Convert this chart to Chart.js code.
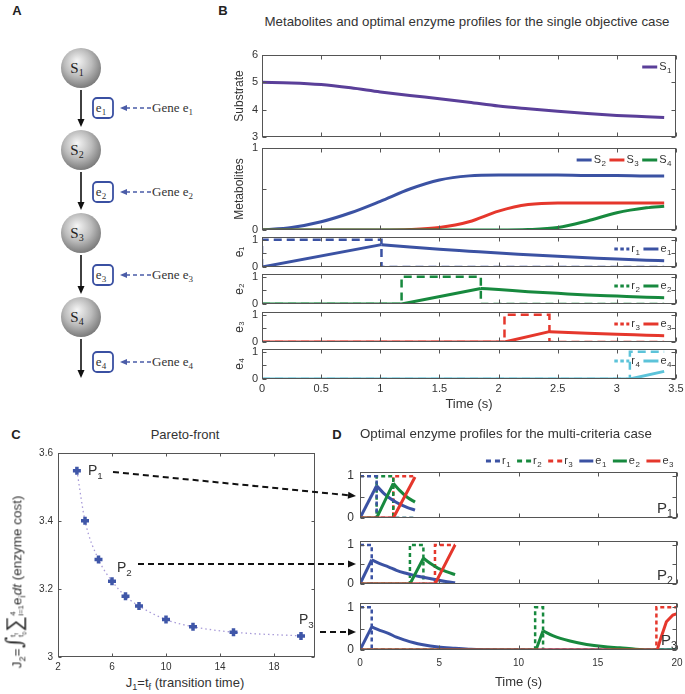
<!DOCTYPE html>
<html>
<head>
<meta charset="utf-8">
<script src="https://cdn.jsdelivr.net/npm/chart.js@4.4.1/dist/chart.umd.min.js"></script>
<style>
  body { margin: 0; background: #fff; }
  #fig { position: relative; width: 685px; height: 694px; overflow: hidden;
         font-family: 'Liberation Sans', Arial, sans-serif; color: #333; }
  canvas.p { position: absolute; }
  .t { position: absolute; white-space: nowrap; line-height: 1; }
  .t sub, .t sup { font-size: 70%; line-height: 0; }
</style>
</head>
<body>
<div id="fig">
  <svg id="diag" width="215" height="400" style="position:absolute;left:0;top:0"
       font-family="'Liberation Serif','DejaVu Serif',serif">
    <defs>
      <radialGradient id="ball" cx="0.45" cy="0.4" r="0.62" fx="0.4" fy="0.32">
        <stop offset="0" stop-color="#f6f6f6"/>
        <stop offset="0.55" stop-color="#bcbcbc"/>
        <stop offset="1" stop-color="#777"/>
      </radialGradient>
    </defs>
  </svg>
</div>
<script>
// ---------- panel B: single objective, time in s ----------
const tB = [0, 0.25, 0.5, 0.75, 1, 1.25, 1.5, 1.75, 2, 2.25, 2.5, 2.75, 3, 3.25, 3.4];
const S1 = [5.0, 4.98, 4.92, 4.80, 4.65, 4.52, 4.40, 4.27, 4.13, 4.03, 3.94, 3.86, 3.79, 3.74, 3.71];
const S2 = [0, 0.03, 0.10, 0.21, 0.35, 0.50, 0.61, 0.66, 0.67, 0.67, 0.67, 0.665, 0.665, 0.66, 0.66];
const S3 = [0, 0, 0, 0, 0, 0.005, 0.03, 0.10, 0.23, 0.31, 0.33, 0.33, 0.33, 0.33, 0.33];
const S4 = [0, 0, 0, 0, 0, 0, 0, 0, 0, 0.005, 0.03, 0.11, 0.21, 0.27, 0.29];

const r1t = [0, 0, 1.01, 1.01, 3.4],          r1 = [0, 1, 1, 0, 0];
const r2t = [0, 1.18, 1.18, 1.85, 1.85, 3.4], r2 = [0, 0, 1, 1, 0, 0];
const r3t = [0, 2.05, 2.05, 2.43, 2.43, 3.4], r3 = [0, 0, 1, 1, 0, 0];
const r4t = [0, 3.11, 3.11, 3.4],             r4 = [0, 0, 1, 1];
const e1t = [0, 1.01, 1.25, 1.5, 1.75, 2, 2.25, 2.5, 2.75, 3, 3.25, 3.4];
const e1  = [0, 0.82, 0.73, 0.65, 0.58, 0.51, 0.45, 0.39, 0.34, 0.29, 0.25, 0.23];
const e2t = [0, 1.18, 1.85, 2, 2.25, 2.5, 2.75, 3, 3.25, 3.4];
const e2  = [0, 0, 0.57, 0.53, 0.45, 0.39, 0.33, 0.29, 0.25, 0.23];
const e3t = [0, 2.05, 2.43, 2.75, 3, 3.25, 3.4];
const e3  = [0, 0, 0.38, 0.32, 0.28, 0.25, 0.23];
const e4t = [0, 3.11, 3.4];
const e4  = [0, 0, 0.28];

// ---------- panel C: pareto front ----------
const J1 = [3.4, 4, 5, 6, 7, 8, 10, 12, 15, 20];
const J2 = [3.548, 3.401, 3.287, 3.223, 3.179, 3.150, 3.110, 3.089, 3.073, 3.062];

// ---------- panel D: multi-criteria profiles ----------
// P1 (t_f = 3.47 s)
const p1r1t = [0, 1.05, 1.05, 3.47],           p1r1 = [1, 1, 0, 0];
const p1r2t = [0, 1.05, 1.05, 2.1, 2.1, 3.47], p1r2 = [0, 0, 1, 1, 0, 0];
const p1r3t = [0, 2.1, 2.1, 3.47],             p1r3 = [0, 0, 1, 1];
const p1e1t = [0, 1.05, 1.5, 2, 2.5, 3, 3.47], p1e1 = [0, 0.77, 0.59, 0.44, 0.33, 0.25, 0.19];
const p1e2t = [0, 1.05, 2.1, 2.5, 3, 3.47],    p1e2 = [0, 0, 0.83, 0.66, 0.49, 0.38];
const p1e3t = [0, 2.1, 3.47],                  p1e3 = [0, 0, 0.98];
// P2 (t_f = 6 s)
const p2r1t = [0, 0.74, 0.74, 6],              p2r1 = [1, 1, 0, 0];
const p2r2t = [0, 3.15, 3.15, 4, 4, 6],        p2r2 = [0, 0, 1, 1, 0, 0];
const p2r3t = [0, 4.73, 4.73, 6],              p2r3 = [0, 0, 1, 1];
const p2e1t = [0, 0.74, 1.25, 1.79, 2.3, 2.84, 3.4, 3.9, 4.4, 4.94, 5.5, 6];
const p2e1  = [0, 0.62, 0.52, 0.44, 0.35, 0.28, 0.22, 0.18, 0.14, 0.10, 0.06, 0.03];
const p2e2t = [0, 3.15, 4, 4.5, 4.94, 5.5, 6], p2e2 = [0, 0, 0.66, 0.51, 0.40, 0.31, 0.24];
const p2e3t = [0, 4.73, 6],                    p2e3 = [0, 0, 1.0];
// P3 (t_f = 20 s)
const p3r1t = [0, 0.74, 0.74, 20],             p3r1 = [1, 1, 0, 0];
const p3r2t = [0, 11.05, 11.05, 11.55, 11.55, 20], p3r2 = [0, 0, 1, 1, 0, 0];
const p3r3t = [0, 18.7, 18.7, 20],             p3r3 = [0, 0, 1, 1];
const p3e1t = [0, 0.74, 1.25, 1.79, 2.3, 2.84, 3.4, 3.89, 4.94, 6, 7, 8, 9, 20];
const p3e1  = [0, 0.54, 0.46, 0.39, 0.30, 0.23, 0.17, 0.13, 0.07, 0.04, 0.015, 0.005, 0, 0];
const p3e2t = [0, 11.1, 11.55, 12.2, 13.25, 14.3, 15.35, 16.4, 17.4, 18.3, 20];
const p3e2  = [0, 0, 0.45, 0.33, 0.21, 0.13, 0.08, 0.05, 0.02, 0, 0];
const p3e3t = [0, 18.75, 19, 19.33, 19.74, 20];
const p3e3  = [0, 0, 0.3, 0.66, 0.82, 0.85];

// ---------- ticks ----------
const tickB = [0, 0.5, 1, 1.5, 2, 2.5, 3, 3.5];
const tickBLabels = ['0', '0.5', '1', '1.5', '2', '2.5', '3', '3.5'];
const tickSub = [3, 4, 5, 6];
const tickUnit = [0, 0.5, 1];
const tickUnitLabels = ['0', '', '1'];
const tickJ1 = [2, 6, 10, 14, 18];
const tickJ2 = [3, 3.2, 3.4, 3.6];
const tickJ2Labels = ['3', '3.2', '3.4', '3.6'];
const tickD = [0, 5, 10, 15, 20];

const BLUE = '#3b52a3', GREEN = '#17893e', RED = '#e5372c', CYAN = '#5cc3d9', PURPLE = '#5a3f99';
const FONT = "'Liberation Sans', Arial, sans-serif";
Chart.defaults.font.family = FONT;
Chart.defaults.color = '#333';

const fig = document.getElementById('fig');
const pts = (t, v) => t.map((x, i) => ({ x, y: v[i] }));

function curve(label, t, v, c, order) {
  return { label, data: pts(t, v), borderColor: c, borderWidth: 3, order, cubicInterpolationMode: 'monotone' };
}
function dashed(label, t, v, c, dash, ldash, w) {
  return { label, data: pts(t, v), borderColor: c, borderWidth: w || 2.5, borderDash: dash, legendDash: ldash, order: 5, tension: 0 };
}
// enzyme: linear rise up to the peak, smooth decay after it
function enzyme(label, t, v, c, order) {
  const k = v.indexOf(Math.max(...v));
  const out = [{ label, data: pts(t.slice(0, k + 1), v.slice(0, k + 1)), borderColor: c, borderWidth: 3, order, tension: 0 }];
  if (k < v.length - 1)
    out.push({ data: pts(t.slice(k), v.slice(k)), borderColor: c, borderWidth: 3, order, cubicInterpolationMode: 'monotone' });
  return out;
}

const SUBS = '₀₁₂₃₄₅₆₇₈₉';
// split 'r₁' into base 'r' and subscript '1'
function splitSub(s) {
  const m = s.match(/^(.*?)([₀-₉]+)$/);
  if (!m) return [s, ''];
  return [m[1], [...m[2]].map(ch => SUBS.indexOf(ch)).join('')];
}

// box, inward ticks on four sides and a small legend, matlab style
const frame = {
  id: 'frame',
  afterDatasetsDraw(chart, args, o) {
    const { ctx, chartArea: a } = chart;
    const x = chart.scales.x, y = chart.scales.y;
    const L = o.tick || 4;
    ctx.save();
    ctx.strokeStyle = '#555';
    ctx.lineWidth = 1;
    ctx.setLineDash([]);
    const l = Math.round(a.left) + 0.5, r = Math.round(a.right) - 0.5;
    const t = Math.round(a.top) + 0.5, b = Math.round(a.bottom) - 0.5;
    ctx.strokeRect(l, t, r - l, b - t);
    ctx.beginPath();
    o.xTicks.forEach(v => {
      const px = Math.round(x.getPixelForValue(v)) + 0.5;
      ctx.moveTo(px, b); ctx.lineTo(px, b - L);
      ctx.moveTo(px, t); ctx.lineTo(px, t + L);
    });
    o.yTicks.forEach(v => {
      const py = Math.round(y.getPixelForValue(v)) + 0.5;
      ctx.moveTo(l, py); ctx.lineTo(l + L, py);
      ctx.moveTo(r, py); ctx.lineTo(r - L, py);
    });
    ctx.stroke();

    if (o.legend) {
      const g = o.legend;
      const items = chart.data.datasets.filter(d => d.label);
      const fBase = g.fs + 'px ' + FONT, fSub = Math.round(g.fs * 0.72) + 'px ' + FONT;
      ctx.textBaseline = 'middle';
      const parts = items.map(d => splitSub(d.label));
      const w = parts.map(([base, sub]) => {
        ctx.font = fBase; const wb = ctx.measureText(base).width;
        ctx.font = fSub; const ws = ctx.measureText(sub).width;
        return g.sample + 2 + wb + ws + 1;
      });
      const total = w.reduce((s, v) => s + v, 0) + g.space * (items.length - 1);
      let px = a.right - g.dx - total;
      const py = a.top + g.dy;
      items.forEach((d, i) => {
        ctx.strokeStyle = d.borderColor;
        ctx.lineWidth = 3;
        ctx.setLineDash(d.legendDash || []);
        ctx.beginPath();
        ctx.moveTo(px, py); ctx.lineTo(px + g.sample, py);
        ctx.stroke();
        ctx.fillStyle = '#333';
        const [base, sub] = parts[i];
        ctx.font = fBase;
        const tx = px + g.sample + 2;
        ctx.fillText(base, tx, py);
        const wb = ctx.measureText(base).width;
        ctx.font = fSub;
        ctx.fillText(sub, tx + wb + 0.5, py + g.fs * 0.38);
        px += w[i] + g.space;
      });
    }
    ctx.restore();
  }
};

function panel(o) {
  const m = o.m, a = o.area;
  const w = a[2] - a[0] + m[0] + m[2], h = a[3] - a[1] + m[1] + m[3];
  const cv = document.createElement('canvas');
  cv.className = 'p';
  cv.width = w; cv.height = h;
  cv.style.left = (a[0] - m[0]) + 'px';
  cv.style.top = (a[1] - m[1]) + 'px';
  cv.style.width = w + 'px';
  cv.style.height = h + 'px';
  fig.appendChild(cv);
  const showX = !!o.xLabels;
  return new Chart(cv, {
    type: 'line',
    data: { datasets: o.datasets },
    options: {
      responsive: false,
      animation: false,
      devicePixelRatio: 1,
      layout: { padding: { left: 0, top: m[1], right: m[2], bottom: showX ? 0 : m[3] } },
      elements: { point: { radius: 0 }, line: { borderCapStyle: 'butt', fill: false } },
      plugins: {
        legend: { display: false },
        tooltip: { enabled: false },
        frame: { xTicks: o.xTicks, yTicks: o.yTicks, legend: o.legend, tick: o.tick }
      },
      scales: {
        x: {
          type: 'linear', min: o.xMin, max: o.xMax, display: showX,
          afterFit: s => { if (showX) s.height = m[3]; s.paddingLeft = 0; s.paddingRight = 0; },
          afterBuildTicks: s => { s.ticks = o.xTicks.map(v => ({ value: v })); },
          ticks: { autoSkip: false, maxRotation: 0, padding: o.xPad || 3, font: { size: o.xFs || 11 },
                   callback: (v, i) => showX ? o.xLabels[i] : '' },
          grid: { display: false, drawTicks: false },
          border: { display: false },
          title: o.xTitle ? { display: true, text: o.xTitle, padding: 0, font: { size: 13 }, color: '#333' } : { display: false }
        },
        y: {
          type: 'linear', min: o.yMin, max: o.yMax,
          afterFit: s => { s.width = m[0]; s.paddingTop = 0; s.paddingBottom = 0; },
          afterBuildTicks: s => { s.ticks = o.yTicks.map(v => ({ value: v })); },
          ticks: { autoSkip: false, padding: o.yPad || 4, font: { size: o.yFs || 11 },
                   callback: (v, i) => o.yLabels[i] },
          grid: { display: false, drawTicks: false },
          border: { display: false },
          title: o.yTitle ? { display: true, text: o.yTitle, padding: 0, font: { size: 12 }, color: '#333' } : { display: false }
        }
      }
    },
    plugins: [frame]
  });
}

// ---------- B ----------
const bx = [262, 676], bm = [30, 8, 9, 5];
const bBase = { xMin: 0, xMax: 3.5, xTicks: tickB, m: bm, tick: 4 };
const legB = { dx: 4, dy: 12, fs: 11, sample: 15, space: 3 };

panel({ ...bBase, area: [bx[0], 55, bx[1], 137], yMin: 3, yMax: 6, yTicks: tickSub, yLabels: ['3', '4', '5', '6'],
  yTitle: 'Substrate', legend: legB,
  datasets: [curve('S₁', tB, S1, PURPLE, 0)] });

panel({ ...bBase, area: [bx[0], 148, bx[1], 230], yMin: 0, yMax: 1, yTicks: tickUnit, yLabels: tickUnitLabels,
  yTitle: 'Metabolites', legend: legB,
  datasets: [curve('S₂', tB, S2, BLUE, 2), curve('S₃', tB, S3, RED, 1), curve('S₄', tB, S4, GREEN, 0)] });

const eRows = [
  ['e₁', 'r₁', r1t, r1, e1t, e1, BLUE, [237, 267]],
  ['e₂', 'r₂', r2t, r2, e2t, e2, GREEN, [274, 304]],
  ['e₃', 'r₃', r3t, r3, e3t, e3, RED, [312, 342]],
  ['e₄', 'r₄', r4t, r4, e4t, e4, CYAN, [349, 379]]
];
eRows.forEach((row, i) => {
  const last = i === eRows.length - 1;
  panel({ ...bBase, area: [bx[0], row[7][0], bx[1], row[7][1]],
    m: last ? [30, 8, 9, 33] : [30, 3, 9, 3],
    yMin: 0, yMax: 1.1, yTicks: tickUnit, yLabels: tickUnitLabels, yTitle: row[0],
    xLabels: last ? tickBLabels : null, xTitle: last ? 'Time (s)' : null,
    legend: { dx: 4, dy: 12, fs: 11, sample: 15, space: 3 },
    datasets: [dashed(row[1], row[2], row[3], row[6], [8, 5], [3.5, 2.5]), ...enzyme(row[0], row[4], row[5], row[6], 0)] });
});

// ---------- C ----------
panel({ area: [58, 453, 317, 657], m: [40, 8, 5, 16], tick: 3,
  xMin: 2, xMax: 21, xTicks: tickJ1, xLabels: tickJ1.map(String), xFs: 10, xPad: 4,
  yMin: 3, yMax: 3.6, yTicks: tickJ2, yLabels: tickJ2Labels, yFs: 10, yPad: 5,
  datasets: [{ data: pts(J1, J2), borderColor: '#a89bd8', borderWidth: 1.3, borderDash: [1.5, 3],
    cubicInterpolationMode: 'monotone', pointStyle: 'cross', pointRadius: 4, pointBorderWidth: 3.5,
    pointBorderColor: '#3f56a8', pointBackgroundColor: '#3f56a8' }] });

// ---------- D ----------
function dSets(R1t, R1, R2t, R2, R3t, R3, E1t, E1, E2t, E2, E3t, E3) {
  const dd = [4, 3], ld = [5, 4];
  return [dashed('r₁', R1t, R1, BLUE, dd, ld), dashed('r₂', R2t, R2, GREEN, dd, ld), dashed('r₃', R3t, R3, RED, dd, ld),
    ...enzyme('e₁', E1t, E1, BLUE, 2), ...enzyme('e₂', E2t, E2, GREEN, 1), ...enzyme('e₃', E3t, E3, RED, 0)];
}
const dBase = { xMin: 0, xMax: 20, xTicks: tickD, yMin: 0, yMax: 1.1, yTicks: tickUnit, yLabels: tickUnitLabels, yFs: 12, yPad: 6, tick: 4 };
panel({ ...dBase, area: [360, 472, 677, 518], m: [30, 20, 6, 4],
  legend: { dx: 3, dy: -11, fs: 11, sample: 14, space: 6 },
  datasets: dSets(p1r1t, p1r1, p1r2t, p1r2, p1r3t, p1r3, p1e1t, p1e1, p1e2t, p1e2, p1e3t, p1e3) });
panel({ ...dBase, area: [360, 541, 677, 584], m: [30, 8, 6, 4],
  datasets: dSets(p2r1t, p2r1, p2r2t, p2r2, p2r3t, p2r3, p2e1t, p2e1, p2e2t, p2e2, p2e3t, p2e3) });
panel({ ...dBase, area: [360, 603, 677, 650], m: [30, 8, 6, 40],
  xLabels: tickD.map(String), xFs: 10, xPad: 7, xTitle: 'Time (s)',
  datasets: dSets(p3r1t, p3r1, p3r2t, p3r2, p3r3t, p3r3, p3e1t, p3e1, p3e2t, p3e2, p3e3t, p3e3) });

// ---------- text ----------
function txt(html, x, y, css, how) {
  const d = document.createElement('div');
  d.className = 't';
  d.innerHTML = html;
  d.style.left = x + 'px';
  d.style.top = y + 'px';
  d.style.cssText += css || '';
  d.style.transform = how || 'translate(-50%,-50%)';
  fig.appendChild(d);
  return d;
}
txt('A', 17, 10, 'font-weight:bold;font-size:13px;color:#222');
txt('B', 223, 10, 'font-weight:bold;font-size:13px;color:#222');
txt('C', 16, 434, 'font-weight:bold;font-size:13px;color:#222');
txt('D', 337, 434, 'font-weight:bold;font-size:13px;color:#222');
txt('Metabolites and optimal enzyme profiles for the single objective case', 467, 22, 'font-size:13.3px');
txt('Pareto-front', 185, 434, 'font-size:13px');
txt('Optimal enzyme profiles for the multi-criteria case', 360, 434, 'font-size:13.3px', 'translate(0,-50%)');
txt('J<sub>1</sub>=t<sub>f</sub> (transition time)', 185, 682, 'font-size:13px');
txt('J<sub>2</sub>=<span style="font-size:22px;font-family:\'DejaVu Serif\',serif">∫</span>' +
    '<span style="display:inline-block;vertical-align:middle;font-size:8px;line-height:1.1;text-align:left">t<sub>f</sub><br>t<sub>0</sub></span>' +
    '<span style="font-size:22px">∑</span>' +
    '<span style="display:inline-block;vertical-align:middle;font-size:8px;line-height:1.1">4<br>i=1</span>' +
    'e<sub>i</sub><i>dt</i> (enzyme cost)', 15, 582, 'font-size:13.5px', 'translate(-50%,-50%) rotate(-90deg)');
txt('P<sub>1</sub>', 88, 470, 'font-size:14px', 'translate(0,-50%)');
txt('P<sub>2</sub>', 117, 567, 'font-size:14px', 'translate(0,-50%)');
txt('P<sub>3</sub>', 299, 619, 'font-size:14px', 'translate(0,-50%)');
txt('P<sub>1</sub>', 657, 507, 'font-size:15px', 'translate(0,-50%)');
txt('P<sub>2</sub>', 657, 574, 'font-size:15px', 'translate(0,-50%)');
txt('P<sub>3</sub>', 661, 639, 'font-size:15px', 'translate(0,-50%)');

// ---------- diagram A and dashed arrows ----------
const NS = 'http://www.w3.org/2000/svg';
function el(parent, tag, attrs, html) {
  const e = document.createElementNS(NS, tag);
  for (const k in attrs) e.setAttribute(k, attrs[k]);
  if (html) e.innerHTML = html;
  parent.appendChild(e);
  return e;
}
const diag = document.getElementById('diag');
const nodeY = [68, 150, 233, 317], boxY = [108, 192, 275, 362];
nodeY.forEach((cy, i) => {
  const n = i + 1;
  el(diag, 'circle', { cx: 81, cy, r: 20, fill: 'url(#ball)' });
  el(diag, 'text', { x: 77, y: cy + 5, 'font-size': 15, fill: '#222', 'text-anchor': 'middle' },
     'S<tspan font-size="10" dy="3">' + n + '</tspan>');
  const y0 = cy + 22, y1 = i < 3 ? nodeY[i + 1] - 23 : 378;
  el(diag, 'line', { x1: 81, y1: y0, x2: 81, y2: y1 - 7, stroke: '#111', 'stroke-width': 1.6 });
  el(diag, 'polygon', { points: `77.5,${y1 - 8} 84.5,${y1 - 8} 81,${y1}`, fill: '#111' });
  const by = boxY[i];
  el(diag, 'rect', { x: 93, y: by - 10, width: 20, height: 20, rx: 4, fill: '#fff', stroke: '#3a50a2', 'stroke-width': 1.8 });
  el(diag, 'text', { x: 101, y: by + 4, 'font-size': 13, fill: '#333', 'text-anchor': 'middle' },
     'e<tspan font-size="9" dy="3">' + n + '</tspan>');
  el(diag, 'line', { x1: 151, y1: by, x2: 126, y2: by, stroke: '#4a5ca8', 'stroke-width': 1.5, 'stroke-dasharray': '4,3' });
  el(diag, 'polygon', { points: `120,${by} 127,${by - 3} 127,${by + 3}`, fill: '#4a5ca8' });
  el(diag, 'text', { x: 152, y: by + 4, 'font-size': 13, fill: '#333' },
     'Gene e<tspan font-size="9" dy="3">' + n + '</tspan>');
});

const ov = document.createElementNS(NS, 'svg');
ov.setAttribute('width', 685); ov.setAttribute('height', 694);
ov.setAttribute('style', 'position:absolute;left:0;top:0;pointer-events:none');
fig.appendChild(ov);
[[113, 472, 356, 496], [138, 564, 356, 564], [320, 632, 356, 632]].forEach(([x1, y1, x2, y2]) => {
  const dx = x2 - x1, dy = y2 - y1, len = Math.hypot(dx, dy), ux = dx / len, uy = dy / len;
  const bx0 = x2 - ux * 8, by0 = y2 - uy * 8;
  el(ov, 'line', { x1, y1, x2: bx0, y2: by0, stroke: '#111', 'stroke-width': 2, 'stroke-dasharray': '6,4' });
  el(ov, 'polygon', { points: `${x2},${y2} ${bx0 - uy * 3.5},${by0 + ux * 3.5} ${bx0 + uy * 3.5},${by0 - ux * 3.5}`, fill: '#111' });
});
</script>
</body>
</html>
